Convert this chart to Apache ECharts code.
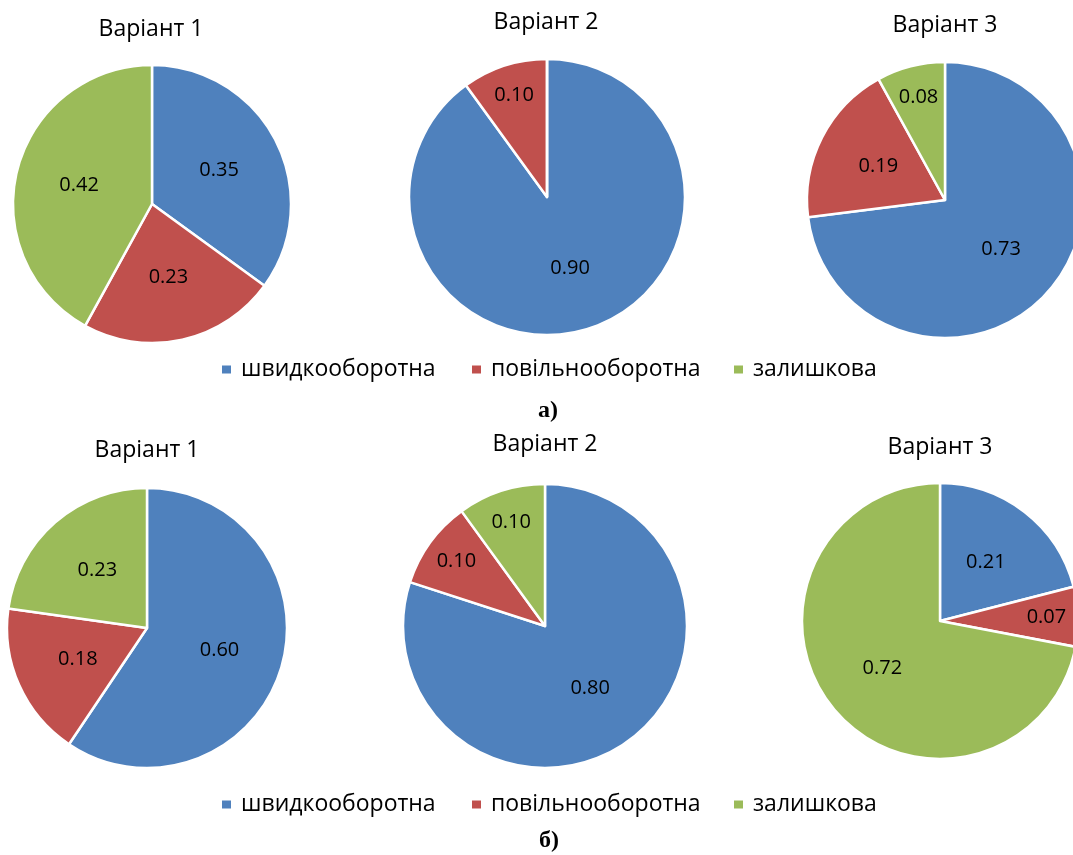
<!DOCTYPE html>
<html>
<head>
<meta charset="utf-8">
<script src="https://cdn.jsdelivr.net/npm/echarts@6/dist/echarts.min.js"></script>
<style>
  html, body { margin: 0; padding: 0; background: #fff; }
  #chart { width: 1073px; height: 855px; }
</style>
</head>
<body>
<div id="chart"></div>
<script>
// категорії
const categories = ['швидкооборотна', 'повільнооборотна', 'залишкова'];
const variantNames = ['Варіант 1', 'Варіант 2', 'Варіант 3'];

// а) верхній ряд
const topV1 = [0.35, 0.23, 0.42];
const topV2 = [0.90, 0.10, 0];
const topV3 = [0.73, 0.19, 0.08];

// б) нижній ряд
const botV1 = [0.60, 0.18, 0.23];
const botV2 = [0.80, 0.10, 0.10];
const botV3 = [0.21, 0.07, 0.72];

const colors = ['#4F81BD', '#C0504D', '#9BBB59'];
const font = '"Open Sans", "Noto Sans", sans-serif';

// розміщення кругів
const pies = [
    { vals: topV1, c: [152, 204], r: 139 },
    { vals: topV2, c: [547, 197], r: 138 },
    { vals: topV3, c: [945, 200], r: 138 },
    { vals: botV1, c: [147, 628], r: 140 },
    { vals: botV2, c: [545, 626], r: 142 },
    { vals: botV3, c: [940, 621], r: 138 }
];
const titlePos = [[151, 18], [546, 11], [945, 14], [147, 439], [545, 433], [940, 436]];

function makeSeries(p, i) {
    return {
        type: 'pie',
        name: variantNames[i % 3],
        center: p.c,
        radius: p.r,
        startAngle: 90,
        clockwise: true,
        minShowLabelAngle: 1,
        animation: false,
        itemStyle: { borderColor: '#fff', borderWidth: 2.5 },
        label: {
            show: true,
            position: 'inside',
            color: '#000',
            fontFamily: font,
            fontSize: 20,
            formatter: function (d) { return d.value.toFixed(2); }
        },
        labelLine: { show: false },
        emphasis: { disabled: true },
        // маленькі сектори - підпис ближче до краю, як в Excel
        labelLayout: function (params) {
            const vals = p.vals;
            const sum = vals.reduce((a, b) => a + b, 0);
            let before = 0;
            for (let k = 0; k < params.dataIndex; k++) before += vals[k];
            const share = vals[params.dataIndex] / sum;
            const ang = 2 * Math.PI * (before / sum + share / 2);
            const f = share < 0.15 ? 0.75 : 0.52;
            const extra = (f - 0.5) * p.r;
            return { dx: extra * Math.sin(ang), dy: -extra * Math.cos(ang) };
        },
        data: categories.map((name, k) => ({ name: name, value: p.vals[k] }))
    };
}

// легенди: по одному елементу, щоб точно поставити
const legendX = [220, 470, 732];
const legendRows = [358, 793];
const legends = [];
legendRows.forEach(function (y) {
    categories.forEach(function (name, k) {
        legends.push({
            data: [name],
            left: legendX[k],
            top: y,
            padding: 0,
            icon: 'rect',
            itemWidth: 11,
            itemHeight: 10,
            selectedMode: false,
            textStyle: { fontFamily: font, fontSize: 23, color: '#000', padding: [0, 0, 0, 4] }
        });
    });
});

const chart = echarts.init(document.getElementById('chart'));
chart.setOption({
    color: colors,
    animation: false,
    title: titlePos.map((t, i) => ({
        text: variantNames[i % 3],
        left: t[0],
        top: t[1],
        textAlign: 'center',
        padding: 0,
        textStyle: { fontFamily: font, fontSize: 23, fontWeight: 'normal', color: '#000' }
    })),
    legend: legends,
    graphic: [
        { type: 'text', x: 548, y: 411, style: { text: 'а)', font: 'bold 24px "Liberation Serif", serif', fill: '#000', textAlign: 'center', textVerticalAlign: 'middle' } },
        { type: 'text', x: 549, y: 841, style: { text: 'б)', font: 'bold 24px "Liberation Serif", serif', fill: '#000', textAlign: 'center', textVerticalAlign: 'middle' } }
    ],
    series: pies.map(makeSeries)
});
</script>
</body>
</html>
